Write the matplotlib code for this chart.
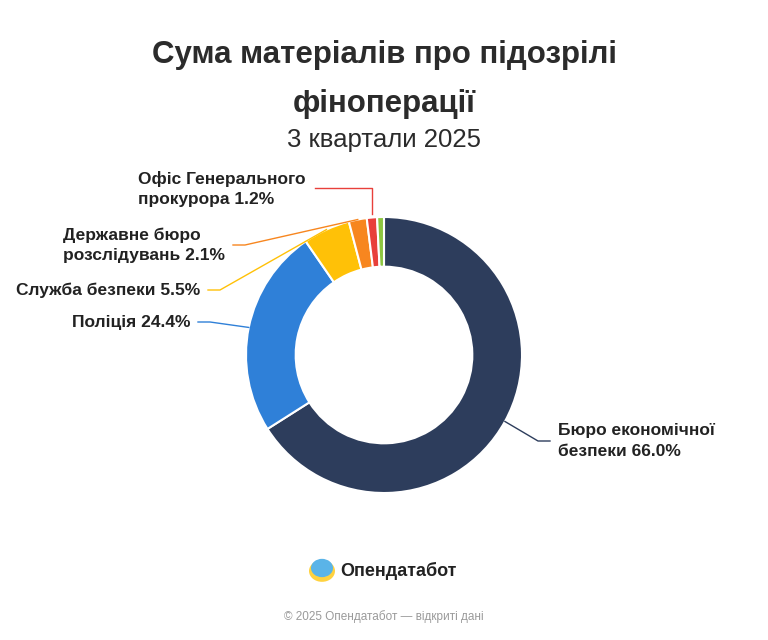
import matplotlib
matplotlib.use("Agg")
import matplotlib.pyplot as plt
import numpy as np
from matplotlib.lines import Line2D
from matplotlib.patches import Circle

plt.rcParams['font.family'] = ['Liberation Sans', 'DejaVu Sans']

categories = ["Бюро економічної\nбезпеки", "Поліція", "Служба безпеки", "Державне бюро\nрозслідувань",
              "Офіс Генерального\nпрокурора", "Інші"]
values = [66.0, 24.4, 5.5, 2.1, 1.2, 0.8]
colors = ["#2d3d5c", "#2f80d8", "#ffc107", "#f7861f", "#e8403b", "#8dc63f"]
show_label = [True, True, True, True, True, False]

W, H = 768, 640
fig = plt.figure(figsize=(W/100, H/100), dpi=100)
cx, cy, R = 384, 355, 138
ax = fig.add_axes([(cx-R)/W, 1-(cy+R)/H, 2*R/W, 2*R/H])
ax.pie(values, colors=colors, startangle=90, counterclock=False,
       wedgeprops=dict(width=0.36, edgecolor='white', linewidth=1.5))
ax.set_xlim(-1, 1); ax.set_ylim(-1, 1)
ax.set_aspect('equal'); ax.axis('off')

def fp(x, y):  # pixel from top-left -> figure fraction
    return x/W, 1-y/H

anchors = [
    (558, 441, 'left'),
    (190, 322, 'right'),
    (200, 290, 'right'),
    (225, 245, 'right'),
    (305, 189, 'right'),
]
cum = 0
for i, v in enumerate(values):
    mid = cum + v/2
    cum += v
    if not show_label[i]:
        continue
    th = np.deg2rad(90 - 360*mid/100)
    px, py = cx + R*np.cos(th), cy - R*np.sin(th)
    tx, ty, ha = anchors[i]
    txt = f"{categories[i]} {v:.1f}%"
    fig.text(*fp(tx, ty), txt, ha=ha, va='center', fontsize=12.5, fontweight='bold',
             color='#222222', linespacing=1.45, multialignment='left')
    if ha == 'left':
        ex, ey = tx - 8, ty
        bx = ex - 12
        pts = [(px, py), (bx, ey), (ex, ey)]
    else:
        if i == 4:
            ex, ey = 315, 188
            pts = [(ex, ey), (px, ey), (px, py - 4)]
        else:
            ex, ey = tx + 8, ty
            pts = [(ex, ey), (ex + 12, ey), (px, py)]
    xs, ys = zip(*[fp(a, b) for a, b in pts])
    fig.add_artist(Line2D(xs, ys, color=colors[i], lw=1))

fig.text(0.5, 1-55/H, "Сума матеріалів про підозрілі", ha='center', va='center',
         fontsize=22.5, fontweight='bold', color='#2b2b2b')
fig.text(0.5, 1-104/H, "фіноперації", ha='center', va='center',
         fontsize=22.5, fontweight='bold', color='#2b2b2b')
fig.text(0.5, 1-140/H, "3 квартали 2025", ha='center', va='center',
         fontsize=18.5, color='#2b2b2b')

# logo
fig.add_artist(Circle(fp(322, 571), 13/W, transform=fig.transFigure, color='#ffd23f', ec='none'))
fig.add_artist(Circle(fp(322, 568), 11/W, transform=fig.transFigure, color='#5ab4e8', ec='none'))
fig.text(*fp(340, 571), "Опендатабот", ha='left', va='center', fontsize=13,
         fontweight='bold', color='#222222')
fig.text(0.5, 1-617/H, "© 2025 Опендатабот — відкриті дані", ha='center', va='center',
         fontsize=8.5, color='#9a9a9a')

fig.savefig("out.png", dpi=100, facecolor='white')
